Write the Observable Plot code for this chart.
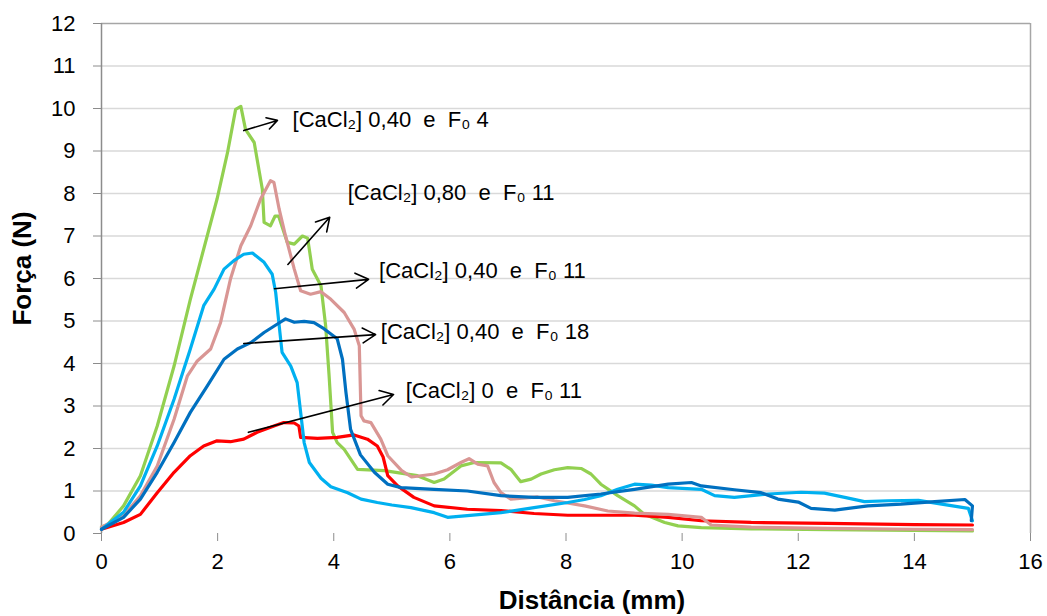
<!DOCTYPE html>
<html>
<head>
<meta charset="utf-8">
<script src="https://cdn.jsdelivr.net/npm/d3@7"></script>
<script src="https://cdn.jsdelivr.net/npm/@observablehq/plot@0.6"></script>
<style>
  html, body { margin: 0; padding: 0; background: #fff; }
  #chart svg { display: block; }
</style>
</head>
<body>
<div id="chart"></div>
<script>
// ---------- data ----------
const greenX = [0, 0.1, 0.38, 0.67, 0.96, 1.25, 1.53, 1.82, 1.99, 2.17, 2.31, 2.4, 2.48, 2.63, 2.77, 2.8, 2.91, 2.99, 3.05, 3.2, 3.32, 3.46, 3.55, 3.63, 3.78, 3.86, 3.92, 3.98, 4.06, 4.18, 4.41, 4.87, 5.44, 5.73, 5.9, 6.19, 6.42, 6.88, 7.05, 7.22, 7.4, 7.57, 7.8, 8.03, 8.26, 8.43, 8.6, 8.89, 9.18, 9.35, 9.7, 9.93, 10.33, 11.19, 12.5, 14, 15];
const greenY = [0.15, 0.2, 0.65, 1.36, 2.53, 3.94, 5.51, 7.0, 7.87, 8.96, 9.98, 10.05, 9.51, 9.2, 8.1, 7.32, 7.24, 7.47, 7.47, 6.85, 6.81, 7.0, 6.95, 6.22, 5.83, 4.89, 3.71, 2.38, 2.14, 1.98, 1.51, 1.48, 1.36, 1.2, 1.28, 1.59, 1.67, 1.66, 1.51, 1.22, 1.28, 1.4, 1.5, 1.55, 1.53, 1.4, 1.16, 0.89, 0.65, 0.45, 0.26, 0.18, 0.14, 0.11, 0.09, 0.07, 0.06];

const redX = [0, 0.38, 0.67, 0.96, 1.25, 1.53, 1.76, 1.99, 2.22, 2.45, 2.68, 2.97, 3.14, 3.32, 3.4, 3.43, 3.72, 4.06, 4.35, 4.58, 4.75, 4.85, 4.93, 5.1, 5.38, 5.73, 6.3, 6.88, 7.45, 8.03, 8.6, 9.18, 9.76, 10.33, 11.19, 12.5, 14, 15];
const redY = [0.1, 0.26, 0.45, 0.96, 1.44, 1.83, 2.06, 2.18, 2.16, 2.22, 2.38, 2.53, 2.61, 2.6, 2.53, 2.26, 2.24, 2.26, 2.32, 2.22, 2.06, 1.8, 1.36, 1.12, 0.85, 0.65, 0.57, 0.54, 0.47, 0.43, 0.43, 0.43, 0.38, 0.3, 0.26, 0.24, 0.21, 0.2];

const pinkX = [0, 0.38, 0.67, 0.96, 1.25, 1.48, 1.65, 1.88, 2.05, 2.22, 2.4, 2.57, 2.74, 2.91, 2.97, 3.06, 3.17, 3.32, 3.43, 3.6, 3.78, 3.95, 4.18, 4.35, 4.44, 4.47, 4.52, 4.64, 4.81, 4.93, 5.17, 5.34, 5.73, 5.96, 6.19, 6.33, 6.48, 6.65, 6.76, 6.88, 7.05, 7.51, 7.8, 8.32, 8.72, 9.18, 9.76, 10.33, 10.5, 11.19, 12.5, 14, 15];
const pinkY = [0.15, 0.42, 0.89, 1.59, 2.69, 3.71, 4.06, 4.34, 4.96, 5.98, 6.77, 7.24, 7.87, 8.3, 8.26, 7.63, 7.0, 6.22, 5.71, 5.63, 5.69, 5.51, 5.2, 4.81, 4.42, 2.77, 2.65, 2.61, 2.22, 1.83, 1.48, 1.33, 1.4, 1.5, 1.67, 1.76, 1.63, 1.59, 1.2, 0.96, 0.81, 0.86, 0.77, 0.65, 0.53, 0.48, 0.45, 0.38, 0.2, 0.15, 0.12, 0.1, 0.09];

const lightBlueX = [0, 0.38, 0.67, 0.96, 1.25, 1.53, 1.76, 1.94, 2.11, 2.28, 2.45, 2.6, 2.8, 2.94, 3.0, 3.06, 3.11, 3.26, 3.37, 3.43, 3.49, 3.58, 3.78, 3.95, 4.24, 4.47, 4.75, 5.0, 5.33, 5.73, 5.96, 6.3, 6.88, 7.45, 8.03, 8.32, 8.6, 8.89, 9.18, 9.47, 9.76, 10.33, 10.56, 10.9, 11.48, 12.05, 12.45, 12.8, 13.14, 13.55, 14.07, 14.47, 14.93, 15.0];
const lightBlueY = [0.1, 0.5, 1.12, 2.06, 3.16, 4.34, 5.36, 5.75, 6.22, 6.42, 6.57, 6.6, 6.38, 6.1, 5.67, 4.89, 4.26, 3.94, 3.55, 2.85, 2.14, 1.67, 1.3, 1.1, 0.96, 0.81, 0.73, 0.67, 0.61, 0.49, 0.38, 0.42, 0.49, 0.61, 0.73, 0.8, 0.89, 1.04, 1.16, 1.14, 1.08, 1.04, 0.89, 0.85, 0.93, 0.97, 0.95, 0.85, 0.75, 0.77, 0.78, 0.69, 0.59, 0.3];

const darkBlueX = [0, 0.38, 0.67, 0.96, 1.25, 1.53, 1.82, 2.11, 2.34, 2.57, 2.8, 3.03, 3.17, 3.32, 3.49, 3.66, 3.83, 4.06, 4.15, 4.21, 4.29, 4.46, 4.7, 4.93, 5.16, 5.73, 6.3, 6.88, 7.45, 8.03, 8.6, 9.18, 9.76, 10.16, 10.33, 10.9, 11.36, 11.65, 12.0, 12.22, 12.63, 13.2, 13.77, 14.35, 14.87, 15.0, 14.98];
const darkBlueY = [0.1, 0.38, 0.81, 1.44, 2.14, 2.85, 3.47, 4.1, 4.34, 4.49, 4.73, 4.93, 5.05, 4.97, 4.99, 4.96, 4.82, 4.58, 4.1, 3.32, 2.45, 1.85, 1.44, 1.16, 1.08, 1.04, 1.0, 0.89, 0.85, 0.85, 0.93, 1.04, 1.16, 1.2, 1.12, 1.03, 0.96, 0.81, 0.74, 0.59, 0.55, 0.65, 0.69, 0.75, 0.8, 0.65, 0.3];

const seriesNames = ["[CaCl₂] 0,40 e F₀ 4", "[CaCl₂] 0 e F₀ 11", "[CaCl₂] 0,80 e F₀ 11", "[CaCl₂] 0,40 e F₀ 11", "[CaCl₂] 0,40 e F₀ 18"];
const seriesColors = ["#92d050", "#ff0000", "#d99694", "#00b0f0", "#0070c0"];
const seriesXs = [greenX, redX, pinkX, lightBlueX, darkBlueX];
const seriesYs = [greenY, redY, pinkY, lightBlueY, darkBlueY];

// annotation labels and arrows (data units)
const labelText = ["[CaCl₂] 0,40  e  F₀ 4", "[CaCl₂] 0,80  e  F₀ 11", "[CaCl₂] 0,40  e  F₀ 11", "[CaCl₂] 0,40  e  F₀ 18", "[CaCl₂] 0  e  F₀ 11"];
const labelX = [3.29, 4.24, 4.78, 4.81, 5.24];
const labelY = [9.74, 8.02, 6.17, 4.74, 3.36];
const arrowX1 = [2.45, 3.21, 2.98, 2.45, 2.53];
const arrowY1 = [9.48, 6.33, 5.76, 4.47, 2.38];
const arrowX2 = [3.03, 3.93, 4.60, 4.72, 5.03];
const arrowY2 = [9.72, 7.44, 5.98, 4.68, 3.27];

const xTicks = [0, 2, 4, 6, 8, 10, 12, 14, 16];
const yTicks = [0, 1, 2, 3, 4, 5, 6, 7, 8, 9, 10, 11, 12];
const gridValues = [1, 2, 3, 4, 5, 6, 7, 8, 9, 10, 11];
const xTitle = "Distância (mm)";
const yTitle = "Força (N)";

// ---------- build tables ----------
const rows = [];
seriesNames.forEach((name, i) => {
  seriesXs[i].forEach((x, j) => rows.push({series: name, x, y: seriesYs[i][j]}));
});
const labels = labelText.map((t, i) => ({t, x: labelX[i], y: labelY[i]}));
const arrows = arrowX1.map((x1, i) => ({x1, y1: arrowY1[i], x2: arrowX2[i], y2: arrowY2[i]}));

const font = "'Liberation Sans', Arial, sans-serif";

const chart = Plot.plot({
  width: 1047,
  height: 616,
  marginLeft: 101,
  marginRight: 17,
  marginTop: 23,
  marginBottom: 83,
  style: {fontFamily: font, color: "black", background: "white"},
  x: {domain: [0, 16]},
  y: {domain: [0, 12]},
  color: {domain: seriesNames, range: seriesColors},
  marks: [
    Plot.ruleY(gridValues, {stroke: "#d9d9d9", strokeWidth: 1.5}),
    Plot.ruleY([12], {stroke: "#a6a6a6", strokeWidth: 1.5}),
    Plot.ruleX([16], {stroke: "#a6a6a6", strokeWidth: 1.5}),
    Plot.ruleX([0], {stroke: "#8c8c8c", strokeWidth: 1.5}),
    Plot.axisY({ticks: yTicks, tickSize: 8, tickPadding: 18, fontSize: 22, stroke: "#8c8c8c", label: null, tickFormat: d => d}),
    Plot.axisX({ticks: xTicks, tickSize: 8, tickPadding: 12, fontSize: 22, stroke: "#8c8c8c", label: null, tickFormat: d => d}),
    Plot.line(rows, {x: "x", y: "y", z: "series", stroke: "series", strokeWidth: 3.2, strokeLinejoin: "round"}),
    Plot.arrow(arrows, {x1: "x1", y1: "y1", x2: "x2", y2: "y2", stroke: "black", strokeWidth: 1.6, headLength: 14, bend: 0}),
    Plot.text(labels, {x: "x", y: "y", text: "t", textAnchor: "start", fontSize: 22, fill: "black"}),
    Plot.text([yTitle], {frameAnchor: "left", textAnchor: "middle", lineAnchor: "middle", dx: -79, dy: -10, rotate: -90, fontSize: 26, fontWeight: "bold", fill: "black"}),
    Plot.text([xTitle], {frameAnchor: "bottom", textAnchor: "middle", lineAnchor: "middle", dx: 26, dy: 67, fontSize: 26, fontWeight: "bold", fill: "black"})
  ]
});
document.getElementById("chart").appendChild(chart);
</script>
</body>
</html>
